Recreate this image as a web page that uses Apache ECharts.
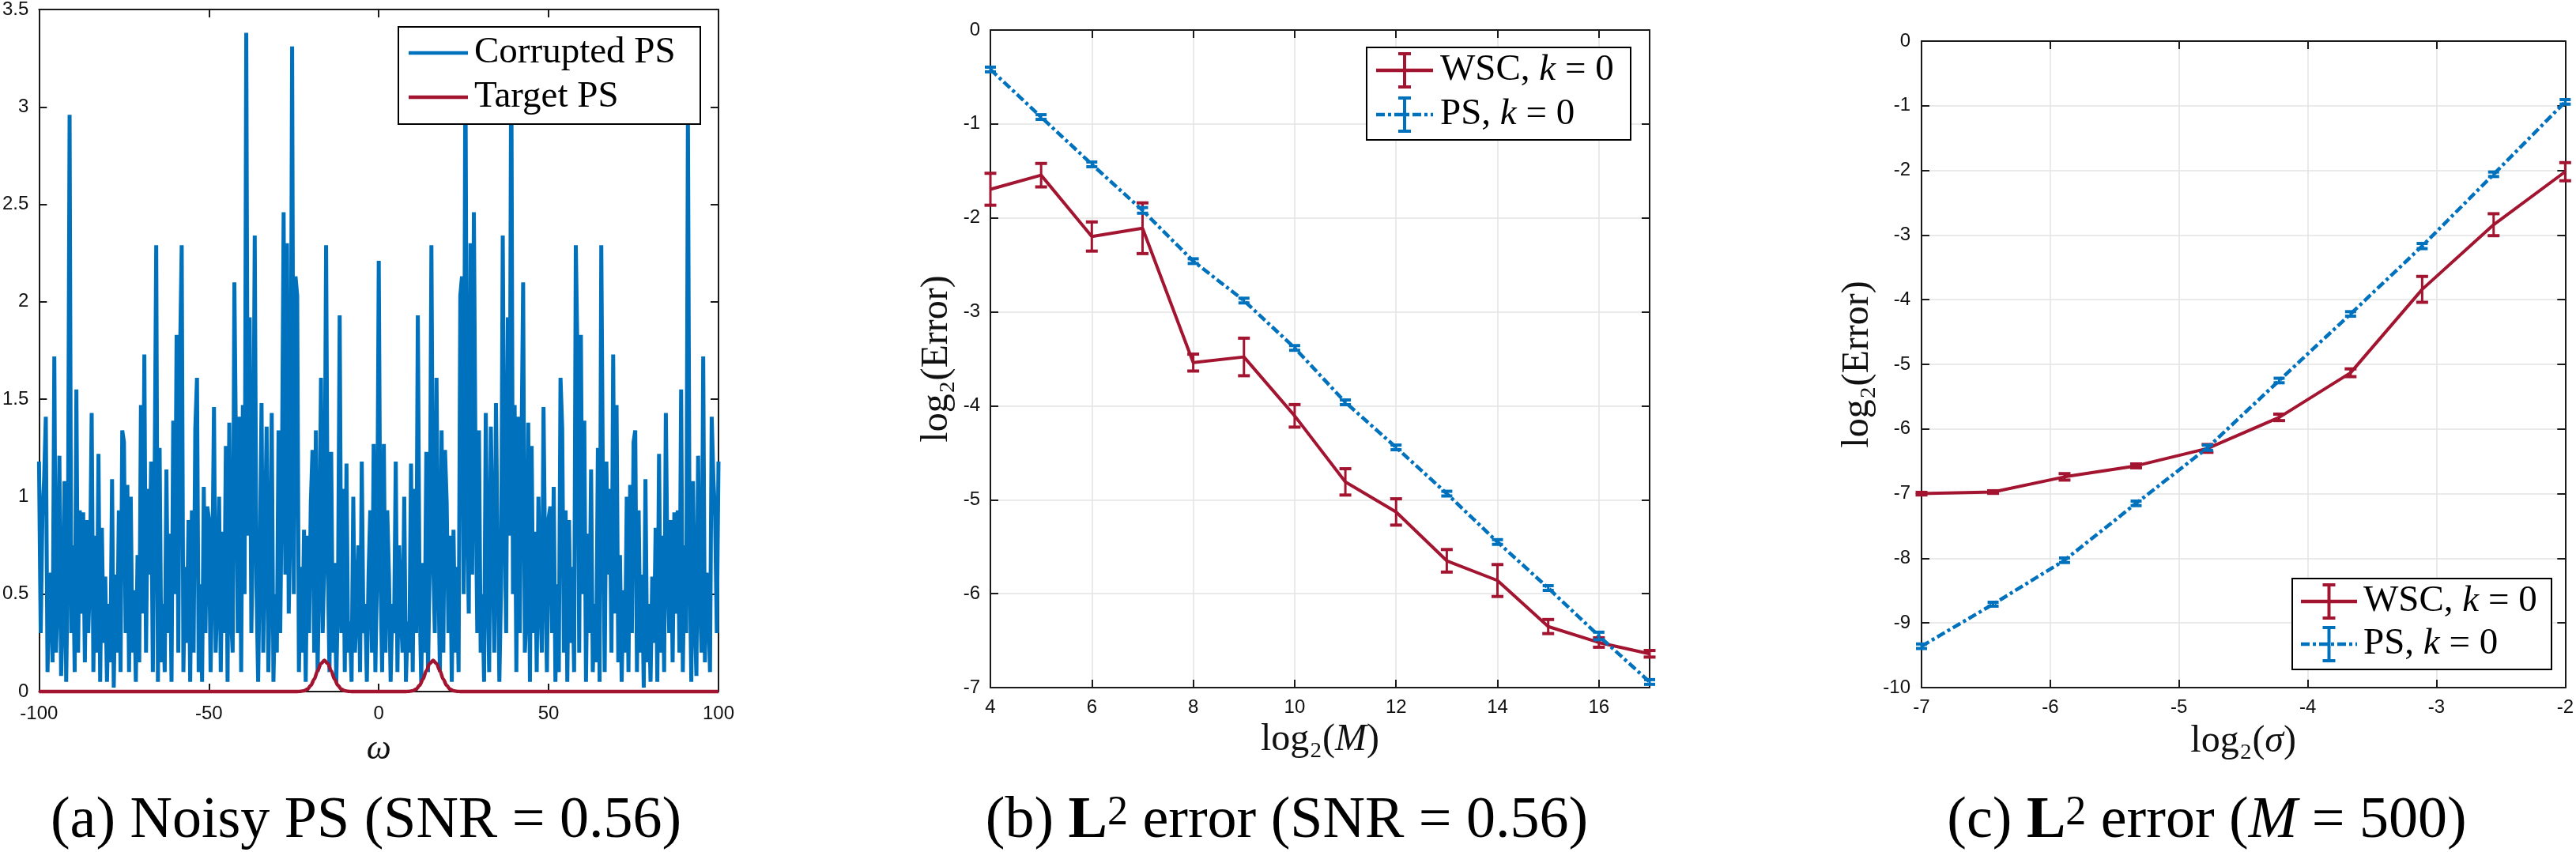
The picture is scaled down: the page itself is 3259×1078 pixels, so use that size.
<!DOCTYPE html>
<html><head><meta charset="utf-8">
<script src="https://cdn.jsdelivr.net/npm/echarts@6/dist/echarts.min.js"></script>
<style>html,body{margin:0;padding:0;background:#fff}#c{width:3259px;height:1078px}</style>
</head><body><div id="c"></div>
<script>
// ---------- Panel (a): noisy power spectrum ----------
// Corrupted PS read for omega = -100, -99.5, ..., 0 (the spectrum is symmetric in omega)
const corruptedLeft = [
  1.18, 0.3, 0.9, 1.09, 1.41, 0.1, 0.45, 0.61, 0.15, 1.72,
  0.2, 0.5, 1.21, 0.08, 0.4, 1.08, 0.05, 0.7, 2.96, 0.3,
  0.75, 0.1, 1.55, 0.2, 0.93, 0.4, 0.92, 0.15, 0.88, 0.3,
  0.6, 1.43, 0.1, 0.8, 0.2, 1.22, 0.05, 0.84, 0.25, 0.59,
  0.05, 0.45, 0.15, 1.09, 0.02, 0.6, 0.2, 0.93, 0.1, 1.34,
  1.28, 0.3, 1.06, 0.1, 1.0, 0.2, 0.52, 0.05, 0.7, 0.15,
  1.47, 0.4, 1.73, 0.2, 1.04, 0.6, 1.18, 0.1, 1.02, 2.29,
  0.05, 1.25, 0.15, 0.45, 0.1, 1.14, 0.3, 0.81, 0.05, 1.39,
  0.5, 1.83, 0.2, 1.71, 2.29, 0.1, 0.64, 0.25, 0.88, 0.05,
  0.93, 0.2, 1.35, 1.61, 0.1, 0.55, 0.05, 1.05, 0.3, 0.95,
  0.89, 0.1, 0.6, 1.46, 0.2, 0.5, 1.0, 0.1, 0.82, 0.3,
  1.26, 0.05, 1.38, 0.4, 0.2, 2.10, 1.2, 0.3, 1.41, 0.1,
  1.47, 0.5, 3.38, 0.8, 1.92, 0.3, 0.9, 2.34, 0.54, 0.05,
  0.7, 1.48, 0.2, 0.77, 1.36, 0.1, 0.6, 1.43, 0.05, 0.5,
  0.2, 1.34, 0.3, 1.11, 2.46, 0.6, 2.30, 0.4, 0.9, 3.31,
  0.5, 2.13, 2.03, 0.1, 0.64, 0.2, 0.83, 0.05, 0.80, 0.3,
  0.97, 1.24, 0.2, 1.34, 0.1, 0.65, 1.61, 0.3, 0.7, 2.29,
  0.66, 0.1, 1.23, 0.2, 0.66, 0.05, 0.5, 1.93, 0.3, 1.04,
  0.1, 1.17, 0.2, 0.36, 0.05, 1.0, 0.2, 0.41, 0.75, 0.1,
  1.18, 0.3, 0.45, 0.05, 0.6, 0.93, 0.2, 1.27, 0.1, 0.6,
  2.21
];
const corruptedOmegaStart = -100;
const corruptedOmegaStep = 0.5;

const targetOmega  = [-100, -24, -23, -22, -21, -20, -19, -18, -17, -16, -15, -14, -13, -12, -11, -10, -9, -8,
                        8, 9, 10, 11, 12, 13, 14, 15, 16, 17, 18, 19, 20, 21, 22, 23, 24, 100];
const targetValues = [0, 0, 0.001, 0.004, 0.012, 0.031, 0.063, 0.106, 0.144, 0.16, 0.144, 0.106, 0.063, 0.031, 0.012, 0.004, 0.001, 0,
                        0, 0.001, 0.004, 0.012, 0.031, 0.063, 0.106, 0.144, 0.16, 0.144, 0.106, 0.063, 0.031, 0.012, 0.004, 0.001, 0, 0];

// ---------- Panel (b): L2 error vs log2(M) ----------
const log2M    = [4, 5, 6, 7, 8, 9, 10, 11, 12, 13, 14, 15, 16, 17];
const wscM     = [-1.695, -1.545, -2.198, -2.11, -3.54, -3.48, -4.107, -4.81, -5.13, -5.65, -5.86, -6.35, -6.52, -6.64];
const wscMErr  = [0.17, 0.125, 0.155, 0.27, 0.09, 0.2, 0.12, 0.14, 0.14, 0.12, 0.17, 0.075, 0.05, 0.035];
const psM      = [-0.42, -0.926, -1.43, -1.92, -2.46, -2.88, -3.384, -3.963, -4.443, -4.935, -5.45, -5.94, -6.45, -6.94];
const psMErr   = [0.025, 0.025, 0.025, 0.03, 0.025, 0.025, 0.025, 0.025, 0.025, 0.025, 0.025, 0.025, 0.04, 0.025];

// ---------- Panel (c): L2 error vs log2(sigma) ----------
const log2Sigma = [-7, -6.444, -5.889, -5.333, -4.778, -4.222, -3.667, -3.111, -2.556, -2];
const wscS      = [-7.0, -6.975, -6.74, -6.57, -6.30, -5.82, -5.13, -3.84, -2.84, -2.02];
const wscSErr   = [0.02, 0.02, 0.05, 0.03, 0.06, 0.05, 0.06, 0.2, 0.17, 0.14];
const psS       = [-9.36, -8.71, -8.03, -7.15, -6.29, -5.25, -4.22, -3.17, -2.06, -0.94];
const psSErr    = [0.035, 0.03, 0.035, 0.035, 0.04, 0.035, 0.035, 0.04, 0.035, 0.035];

// ---------- styling ----------
const BLUE = '#0072BD', RED = '#A2142F', AXC = '#1a1a1a', GRIDC = '#e3e3e3';
const SANS = "'Liberation Sans', Arial, sans-serif";
const SERIF = "'Liberation Serif', 'DejaVu Serif', serif";
const DASHDOT = [11, 4, 4, 4];

// build full corrupted series (read half mirrored about omega = 0)
const corruptedData = [];
corruptedLeft.forEach((v, i) => corruptedData.push([corruptedOmegaStart + corruptedOmegaStep * i, v]));
for (let i = corruptedLeft.length - 2; i >= 0; i--) {
  corruptedData.push([-(corruptedOmegaStart + corruptedOmegaStep * i), corruptedLeft[i]]);
}
const targetData = targetOmega.map((w, i) => [w, targetValues[i]]);

function baseAxis(extra) {
  return Object.assign({
    type: 'value',
    axisLine: { show: true, onZero: false, lineStyle: { color: AXC, width: 2 } },
    axisTick: { show: true, inside: true, length: 10, lineStyle: { color: AXC, width: 2 } },
    axisLabel: { show: true, color: '#111', fontFamily: SANS, fontSize: 24, margin: 13 },
    splitLine: { show: false }
  }, extra);
}
function boxAxis(extra) {
  const a = baseAxis(extra);
  a.axisLabel = { show: false };
  a.splitLine = { show: false };
  return a;
}
const nameRich = {
  n: { fontFamily: SERIF, fontSize: 48, color: '#111' },
  i: { fontFamily: SERIF, fontSize: 48, fontStyle: 'italic', color: '#111' }
};
const omegaRich = {
  i: { fontFamily: SERIF, fontSize: 44, fontStyle: 'italic', color: '#111' }
};

function errSeries(xs, ys, es, color, xi, yi, capW, z) {
  return {
    type: 'custom', xAxisIndex: xi, yAxisIndex: yi, clip: false, z: z, silent: true,
    encode: { x: 0, y: [1, 2] },
    data: xs.map((x, i) => [x, ys[i] - es[i], ys[i] + es[i]]),
    renderItem: function (params, api) {
      const lo = api.coord([api.value(0), api.value(1)]);
      const hi = api.coord([api.value(0), api.value(2)]);
      const h = capW / 2;
      const stem = { stroke: color, lineWidth: 3, fill: null };
      const cap = { stroke: color, lineWidth: 4, fill: null };
      return { type: 'group', children: [
        { type: 'line', shape: { x1: lo[0], y1: lo[1], x2: hi[0], y2: hi[1] }, style: stem },
        { type: 'line', shape: { x1: lo[0] - h, y1: lo[1], x2: lo[0] + h, y2: lo[1] }, style: cap },
        { type: 'line', shape: { x1: hi[0] - h, y1: hi[1], x2: hi[0] + h, y2: hi[1] }, style: cap }
      ]};
    }
  };
}
function lineSeries(xs, ys, color, xi, yi, dashed, z) {
  return {
    type: 'line', xAxisIndex: xi, yAxisIndex: yi, showSymbol: false, z: z, silent: true,
    data: xs.map((x, i) => [x, ys[i]]),
    lineStyle: { color: color, width: dashed ? 4.5 : 4, type: dashed ? DASHDOT : 'solid' }
  };
}

// legend helpers (graphic elements)
function legendIcon(x1, x2, y, color, dashed) {
  const cx = (x1 + x2) / 2;
  const st = { stroke: color, lineWidth: 4 };
  return [
    { type: 'line', shape: { x1: x1, y1: y, x2: x2, y2: y }, style: { stroke: color, lineWidth: 4.5, lineDash: dashed ? DASHDOT : null } },
    { type: 'line', shape: { x1: cx, y1: y - 21, x2: cx, y2: y + 21 }, style: st },
    { type: 'line', shape: { x1: cx - 8, y1: y - 21, x2: cx + 8, y2: y - 21 }, style: st },
    { type: 'line', shape: { x1: cx - 8, y1: y + 21, x2: cx + 8, y2: y + 21 }, style: st }
  ];
}
const legRich = {
  n: { fontFamily: SERIF, fontSize: 47, color: '#000' },
  i: { fontFamily: SERIF, fontSize: 47, fontStyle: 'italic', color: '#000' }
};
function legText(x, y, str) {
  return { type: 'text', x: x, y: y, style: { text: str, rich: legRich, fontFamily: SERIF, fontSize: 47, align: 'left', verticalAlign: 'middle' } };
}
const capRich = {
  n: { fontFamily: SERIF, fontSize: 74, color: '#000', verticalAlign: 'bottom' },
  b: { fontFamily: SERIF, fontSize: 74, fontWeight: 'bold', color: '#000', verticalAlign: 'bottom' },
  i: { fontFamily: SERIF, fontSize: 74, fontStyle: 'italic', color: '#000', verticalAlign: 'bottom' },
  s: { fontFamily: SERIF, fontSize: 52, color: '#000', verticalAlign: 'top' }
};
function caption(x, str) {
  return { type: 'text', x: x, y: 1040, style: { text: str, rich: capRich, fontFamily: SERIF, fontSize: 74, align: 'center', verticalAlign: 'middle' } };
}

const graphics = [
  // panel a legend
  { type: 'rect', shape: { x: 504, y: 34, width: 382, height: 123 }, style: { fill: '#fff', stroke: '#000', lineWidth: 2 }, z: 100 },
  { type: 'line', shape: { x1: 517, y1: 67, x2: 592, y2: 67 }, style: { stroke: BLUE, lineWidth: 4.5 }, z: 101 },
  { type: 'line', shape: { x1: 517, y1: 123, x2: 592, y2: 123 }, style: { stroke: RED, lineWidth: 4.5 }, z: 101 },
  Object.assign(legText(600, 67, '{n|Corrupted PS}'), { z: 101 }),
  Object.assign(legText(600, 123, '{n|Target PS}'), { z: 101 }),
  // panel b legend
  { type: 'rect', shape: { x: 1729, y: 60, width: 334, height: 117 }, style: { fill: '#fff', stroke: '#000', lineWidth: 2 }, z: 100 },
  ...legendIcon(1741, 1813, 89, RED, false).map(e => Object.assign(e, { z: 101 })),
  ...legendIcon(1741, 1813, 145, BLUE, true).map(e => Object.assign(e, { z: 101 })),
  Object.assign(legText(1822, 89, '{n|WSC, }{i|k}{n| = 0}'), { z: 101 }),
  Object.assign(legText(1822, 145, '{n|PS, }{i|k}{n| = 0}'), { z: 101 }),
  // panel c legend
  { type: 'rect', shape: { x: 2900, y: 732, width: 328, height: 115 }, style: { fill: '#fff', stroke: '#000', lineWidth: 2 }, z: 100 },
  ...legendIcon(2911, 2982, 761, RED, false).map(e => Object.assign(e, { z: 101 })),
  ...legendIcon(2911, 2982, 815, BLUE, true).map(e => Object.assign(e, { z: 101 })),
  Object.assign(legText(2990, 761, '{n|WSC, }{i|k}{n| = 0}'), { z: 101 }),
  Object.assign(legText(2990, 815, '{n|PS, }{i|k}{n| = 0}'), { z: 101 }),
  // captions
  caption(463, '{n|(a) Noisy PS (SNR = 0.56)}'),
  caption(1628, '{n|(b) }{b|L}{s|2}{n| error (SNR = 0.56)}'),
  caption(2792, '{n|(c) }{b|L}{s|2}{n| error (}{i|M}{n| = 500)}')
];

const chart = echarts.init(document.getElementById('c'), null, { renderer: 'canvas' });
chart.setOption({
  animation: false,
  backgroundColor: '#fff',
  grid: [
    { left: 46, top: 10, width: 863, height: 865 },
    { left: 1253, top: 38, width: 834, height: 832 },
    { left: 2431, top: 52, width: 818, height: 818 }
  ],
  xAxis: [
    baseAxis({ gridIndex: 0, position: 'bottom', min: -100, max: 100, interval: 50,
      axisLabel: { color: '#111', fontFamily: SANS, fontSize: 24, margin: 16 },
      name: '{i|ω}', nameLocation: 'middle', nameGap: 73, nameTextStyle: { rich: omegaRich, verticalAlign: 'middle' } }),
    boxAxis({ gridIndex: 0, position: 'top', min: -100, max: 100, interval: 50 }),
    baseAxis({ gridIndex: 1, position: 'bottom', min: 4, max: 17, interval: 2,
      axisLabel: { color: '#111', fontFamily: SANS, fontSize: 24, margin: 13, showMaxLabel: false },
      splitLine: { show: true, lineStyle: { color: GRIDC, width: 1.5 } },
      name: '{n|log₂(}{i|M}{n|)}', nameLocation: 'middle', nameGap: 65, nameTextStyle: { rich: nameRich, verticalAlign: 'middle' } }),
    boxAxis({ gridIndex: 1, position: 'top', min: 4, max: 17, interval: 2 }),
    baseAxis({ gridIndex: 2, position: 'bottom', min: -7, max: -2, interval: 1,
      splitLine: { show: true, lineStyle: { color: GRIDC, width: 1.5 } },
      name: '{n|log₂(}{i|σ}{n|)}', nameLocation: 'middle', nameGap: 68, nameTextStyle: { rich: nameRich, verticalAlign: 'middle' } }),
    boxAxis({ gridIndex: 2, position: 'top', min: -7, max: -2, interval: 1 })
  ],
  yAxis: [
    baseAxis({ gridIndex: 0, position: 'left', min: 0, max: 3.5, interval: 0.5 }),
    boxAxis({ gridIndex: 0, position: 'right', min: 0, max: 3.5, interval: 0.5 }),
    baseAxis({ gridIndex: 1, position: 'left', min: -7, max: 0, interval: 1,
      splitLine: { show: true, lineStyle: { color: GRIDC, width: 1.5 } },
      name: '{n|log₂(Error)}', nameLocation: 'middle', nameGap: 68, nameTextStyle: { rich: nameRich, verticalAlign: 'middle' } }),
    boxAxis({ gridIndex: 1, position: 'right', min: -7, max: 0, interval: 1 }),
    baseAxis({ gridIndex: 2, position: 'left', min: -10, max: 0, interval: 1,
      axisLabel: { color: '#111', fontFamily: SANS, fontSize: 24, margin: 14 },
      splitLine: { show: true, lineStyle: { color: GRIDC, width: 1.5 } },
      name: '{n|log₂(Error)}', nameLocation: 'middle', nameGap: 81, nameTextStyle: { rich: nameRich, verticalAlign: 'middle' } }),
    boxAxis({ gridIndex: 2, position: 'right', min: -10, max: 0, interval: 1 })
  ],
  series: [
    { type: 'line', name: 'Corrupted PS', xAxisIndex: 0, yAxisIndex: 0, data: corruptedData, showSymbol: false, clip: false,
      lineStyle: { color: BLUE, width: 5, join: 'miter', miterLimit: 3 }, z: 3, silent: true },
    { type: 'line', name: 'Target PS', xAxisIndex: 0, yAxisIndex: 0, data: targetData, showSymbol: false, clip: false,
      smooth: 0.3, smoothMonotone: 'x', lineStyle: { color: RED, width: 4.5 }, z: 4, silent: true },

    lineSeries(log2M, wscM, RED, 2, 2, false, 3),
    errSeries(log2M, wscM, wscMErr, RED, 2, 2, 15, 3),
    lineSeries(log2M, psM, BLUE, 2, 2, true, 4),
    errSeries(log2M, psM, psMErr, BLUE, 2, 2, 14, 4),

    lineSeries(log2Sigma, wscS, RED, 4, 4, false, 3),
    errSeries(log2Sigma, wscS, wscSErr, RED, 4, 4, 15, 3),
    lineSeries(log2Sigma, psS, BLUE, 4, 4, true, 4),
    errSeries(log2Sigma, psS, psSErr, BLUE, 4, 4, 14, 4)
  ],
  graphic: graphics
});
</script>
</body></html>
